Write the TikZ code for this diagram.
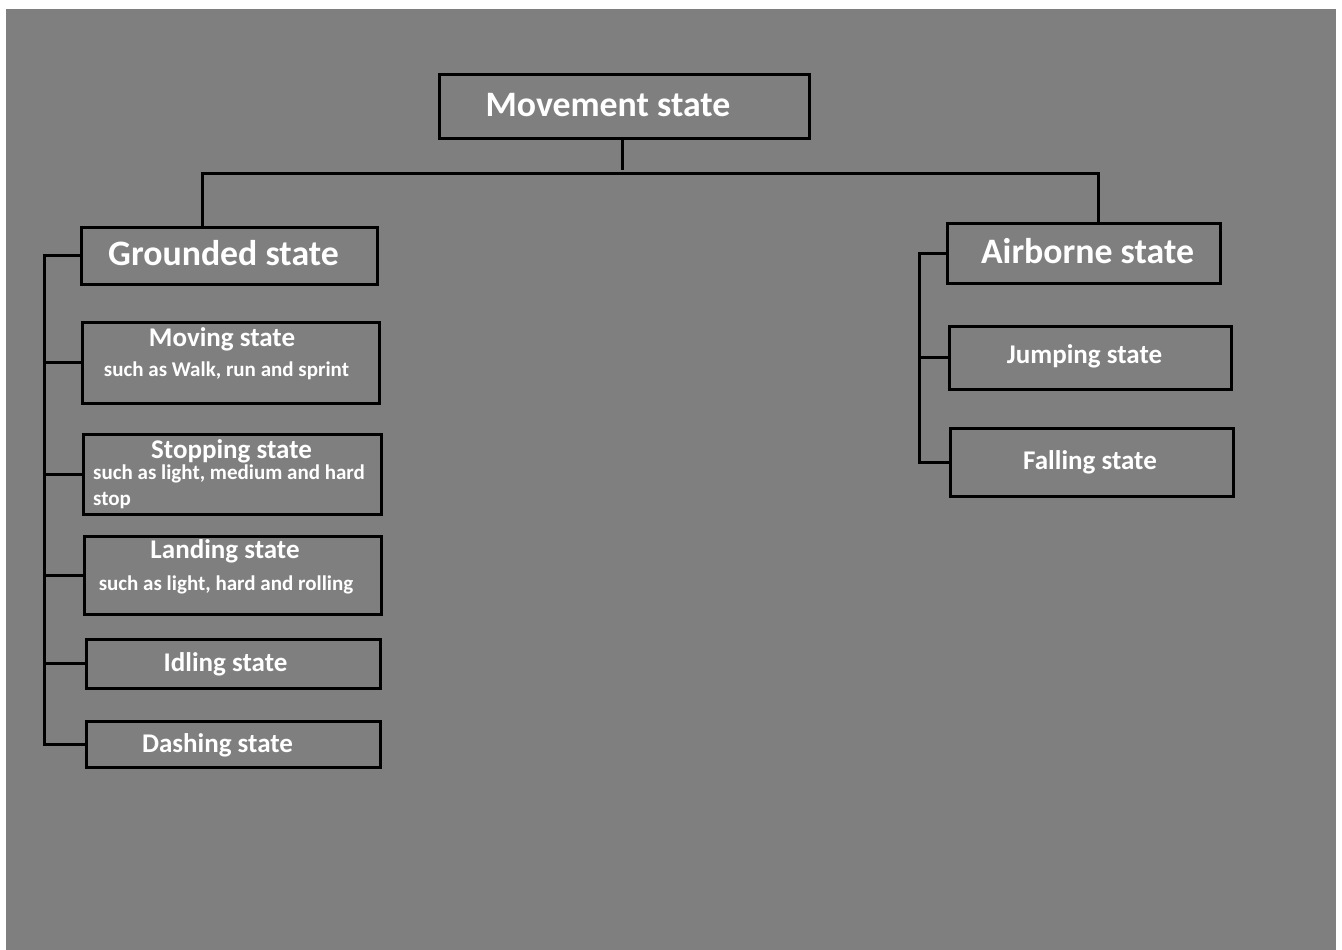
\documentclass[tikz,border=0pt]{standalone}
\usepackage{fontspec}
\setmainfont{Carlito}
\definecolor{sheet}{HTML}{7F7F7F}
\tikzset{every picture/.append style={x=1pt, y=-1pt}}
\tikzset{
  statebox/.style={draw=black, line width=3pt, inner sep=0pt},
  headtext/.style={text=white, inner sep=0pt, anchor=base, font=\bfseries\fontsize{35.8}{40}\selectfont},
  statetext/.style={text=white, inner sep=0pt, anchor=base, font=\bfseries\fontsize{27}{31}\selectfont},
  subtext/.style={text=white, inner sep=0pt, anchor=base, font=\bfseries\fontsize{21}{25}\selectfont},
  link/.style={draw=black, line width=3pt}
}

\begin{document}
\begin{tikzpicture}
  \fill[white] (0,0) rectangle (1342,950);
  \fill[sheet] (6,9) rectangle (1336,950);
  \useasboundingbox (0,0) rectangle (1342,950);

  % boxes
  \node[statebox, minimum width=370pt, minimum height=63pt] (move) at(624,106.5){};
  \node[statebox, minimum width=296pt, minimum height=57pt] (ground) at(229,255.5){};
  \node[statebox, minimum width=273pt, minimum height=60pt] (air) at(1083.5,253){};
  \node[statebox, minimum width=297pt, minimum height=81pt] (moving) at(230.5,362.5){};
  \node[statebox, minimum width=298pt, minimum height=80pt] (stopping) at(232,474){};
  \node[statebox, minimum width=297pt, minimum height=78pt] (landing) at(232.5,575){};
  \node[statebox, minimum width=294pt, minimum height=49pt] (idling) at(233,663.5){};
  \node[statebox, minimum width=294pt, minimum height=46pt] (dashing) at(233,744){};
  \node[statebox, minimum width=282pt, minimum height=63pt] (jumping) at(1090,357.5){};
  \node[statebox, minimum width=283pt, minimum height=68pt] (falling) at(1091.5,462){};

  % texts
  \node[headtext] (move-t) at(608,116){Movement state};
  \node[headtext] (ground-t) at(223.5,265){Grounded state};
  \node[headtext] (air-t) at(1087.5,263){Airborne state};
  \node[statetext] (moving-t) at(222,346){Moving state};
  \node[subtext] (moving-s) at(226.5,376){such as Walk, run and sprint};
  \node[statetext] (stopping-t) at(231.5,458){Stopping state};
  \node[subtext, anchor=base west] (stopping-s) at(93,479){such as light, medium and hard};
  \node[subtext, anchor=base west] (stopping-s2) at(93,505){stop};
  \node[statetext] (landing-t) at(225,558){Landing state};
  \node[subtext] (landing-s) at(226,590){such as light, hard and rolling};
  \node[statetext] (idling-t) at(225.5,671){Idling state};
  \node[statetext] (dashing-t) at(217.5,752){Dashing state};
  \node[statetext] (jumping-t) at(1084.5,363){Jumping state};
  \node[statetext] (falling-t) at(1090,469){Falling state};

  % connectors
  \coordinate (split) at(622,173);
  \coordinate (gline) at(44,0);
  \coordinate (aline) at(919,0);
  \draw[link] (move.south -| split) -- ([yshift=3pt]split);
  \draw[link] ([xshift=-27pt]ground.north) |- (split) -| ([xshift=14.5pt]air.north);
  \draw[link] (ground.west) -| (gline |- dashing.west) -- (dashing.west);
  \foreach \n in {moving,stopping,landing,idling}
    \draw[link] (\n.west) -- (\n.west -| gline);
  \draw[link] (air.west) -| (aline |- falling.west) -- (falling.west);
  \draw[link] (jumping.west) -- (jumping.west -| aline);
\end{tikzpicture}
\end{document}
